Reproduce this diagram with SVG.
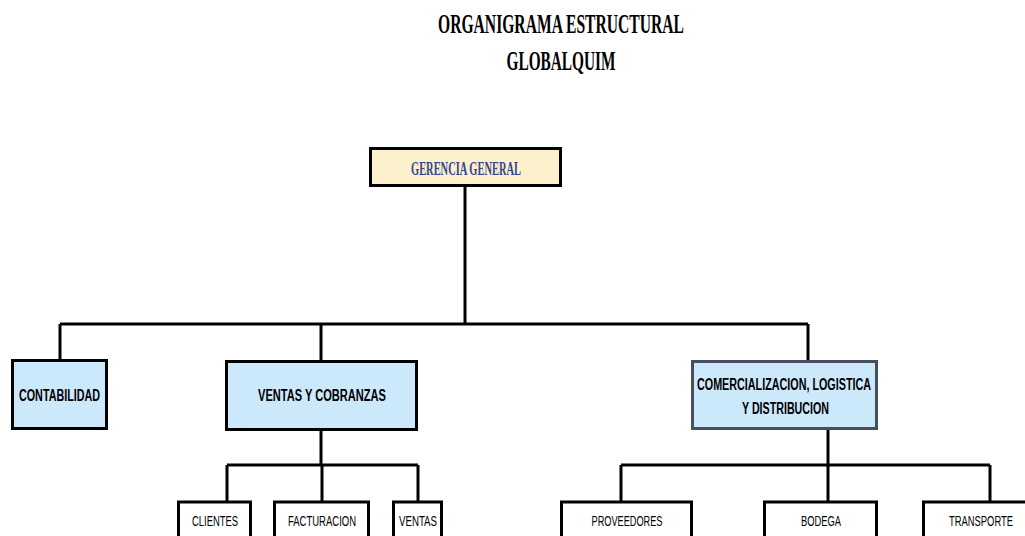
<svg xmlns="http://www.w3.org/2000/svg" width="1025" height="536" viewBox="0 0 1025 536">
<style>
.title{font-family:"Liberation Serif","DejaVu Serif",serif;font-weight:bold;font-size:27px;fill:#000}
.gg{font-family:"Liberation Serif","DejaVu Serif",serif;font-weight:bold;font-size:19px;fill:#34468c}
.mid{font-family:"Liberation Sans","DejaVu Sans",sans-serif;font-weight:bold;font-size:16px;fill:#000}
.low{font-family:"Liberation Sans","DejaVu Sans",sans-serif;font-size:14px;fill:#000}
.box{stroke:#000;stroke-width:3}
.blue{fill:#cce9fb}
.white{fill:#fff}
.conn{stroke:#000;stroke-width:3;fill:none}
</style>
<rect width="1025" height="536" fill="#fff"/>
<g id="title">
<text class="title" x="561" y="33" text-anchor="middle" textLength="246" lengthAdjust="spacingAndGlyphs">ORGANIGRAMA ESTRUCTURAL</text>
<text class="title" x="561" y="70" text-anchor="middle" textLength="109" lengthAdjust="spacingAndGlyphs">GLOBALQUIM</text>
</g>
<g id="connectors">
<path class="conn" d="M465 186V324M60 324H808M60 324V360M321 324V361M808 324V361"/>
<path class="conn" d="M321 430V465M227 465H418M227 465V501M322 465V501M418 465V501"/>
<path class="conn" d="M828 429V465M621 465H990M621 465V501M828 465V501M990 465V501"/>
</g>
<g id="gerencia">
<rect class="box" x="370.5" y="148.5" width="190" height="37" fill="#fdf0cc"/>
<text class="gg" x="466" y="175" text-anchor="middle" textLength="110" lengthAdjust="spacingAndGlyphs">GERENCIA GENERAL</text>
</g>
<g id="contabilidad">
<rect class="box blue" x="12.5" y="360.5" width="94" height="68"/>
<text class="mid" x="59.5" y="401" text-anchor="middle" textLength="81" lengthAdjust="spacingAndGlyphs">CONTABILIDAD</text>
</g>
<g id="ventas-cobranzas">
<rect class="box blue" x="226.5" y="361.5" width="190" height="68"/>
<text class="mid" x="322" y="401" text-anchor="middle" textLength="128" lengthAdjust="spacingAndGlyphs">VENTAS Y COBRANZAS</text>
</g>
<g id="comercializacion">
<rect x="692.5" y="361.5" width="184" height="67" fill="#cce9fb" stroke="#46505c" stroke-width="3"/>
<text class="mid" x="784" y="390" text-anchor="middle" textLength="174" lengthAdjust="spacingAndGlyphs">COMERCIALIZACION, LOGISTICA</text>
<text class="mid" x="785.5" y="414" text-anchor="middle" textLength="87" lengthAdjust="spacingAndGlyphs">Y DISTRIBUCION</text>
</g>
<g id="clientes">
<rect class="box white" x="178.5" y="502" width="72" height="40"/>
<text class="low" x="215" y="526" text-anchor="middle" textLength="46" lengthAdjust="spacingAndGlyphs">CLIENTES</text>
</g>
<g id="facturacion">
<rect class="box white" x="274.5" y="502" width="94" height="40"/>
<text class="low" x="322" y="526" text-anchor="middle" textLength="68" lengthAdjust="spacingAndGlyphs">FACTURACION</text>
</g>
<g id="ventas">
<rect class="box white" x="393.5" y="502" width="48" height="40"/>
<text class="low" x="418" y="526" text-anchor="middle" textLength="38" lengthAdjust="spacingAndGlyphs">VENTAS</text>
</g>
<g id="proveedores">
<rect class="box white" x="561.5" y="502" width="130" height="40"/>
<text class="low" x="627" y="526" text-anchor="middle" textLength="71" lengthAdjust="spacingAndGlyphs">PROVEEDORES</text>
</g>
<g id="bodega">
<rect class="box white" x="764.5" y="502" width="112" height="40"/>
<text class="low" x="821" y="526" text-anchor="middle" textLength="40" lengthAdjust="spacingAndGlyphs">BODEGA</text>
</g>
<g id="transporte">
<rect class="box white" x="923.5" y="502" width="110" height="40"/>
<text class="low" x="981" y="526" text-anchor="middle" textLength="64" lengthAdjust="spacingAndGlyphs">TRANSPORTE</text>
</g>
</svg>
